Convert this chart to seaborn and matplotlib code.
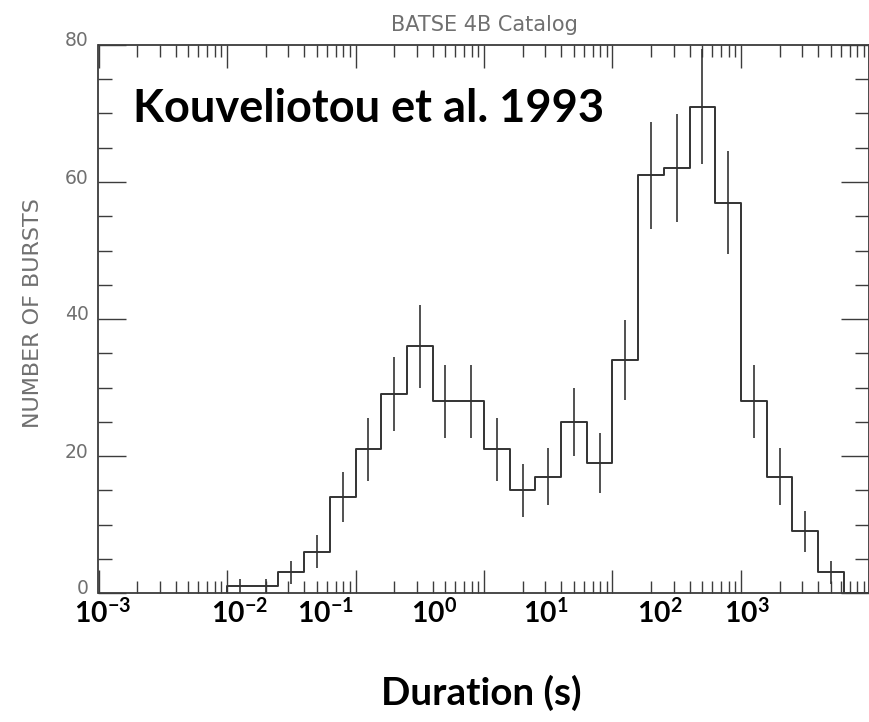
import numpy as np
import pandas as pd
import matplotlib
matplotlib.use("Agg")
import matplotlib.pyplot as plt
import matplotlib.ticker as mticker
import matplotlib.transforms as mtransforms
import seaborn as sns

# ---------------- data ----------------
log_edges = [-2.0, -1.8, -1.6, -1.4, -1.2, -1.0, -0.8, -0.6, -0.4, -0.2,
             0.0, 0.2, 0.4, 0.6, 0.8, 1.0, 1.2, 1.4, 1.6, 1.8,
             2.0, 2.2, 2.4, 2.6, 2.8, 3.0]
counts = [1, 1, 3, 6, 14, 21, 29, 36, 28, 28,
          21, 15, 17, 25, 19, 34, 61, 62, 71, 57,
          28, 17, 9, 3, 0]
errors = [1.0, 1.0, 1.7, 2.4, 3.7, 4.6, 5.4, 6.0, 5.3, 5.3,
          4.6, 3.9, 4.1, 5.0, 4.4, 5.8, 7.8, 7.9, 8.4, 7.5,
          5.3, 4.1, 3.0, 1.7, 0.0]
y_ticks = [0, 20, 40, 60, 80]
duration_labels = [r"$\mathbf{10^{-3}}$", r"$\mathbf{10^{-2}}$", r"$\mathbf{10^{-1}}$",
                   r"$\mathbf{10^{0}}$", r"$\mathbf{10^{1}}$", r"$\mathbf{10^{2}}$",
                   r"$\mathbf{10^{3}}$"]
title_text = "BATSE 4B Catalog"
ylabel_text = "NUMBER OF BURSTS"
note_text = "Kouveliotou et al. 1993"
xlabel_text = "Duration (s)"

# ---------------- layout (pixels of the 870x722 canvas) ----------------
W, H = 870, 722
label_centres_px = [103, 240, 325, 434, 546, 660, 747]

sns.set_style("ticks")
plt.rcParams["font.family"] = ["DejaVu Sans"]
plt.rcParams["mathtext.fontset"] = "custom"
plt.rcParams["mathtext.rm"] = "Lato"
plt.rcParams["mathtext.bf"] = "Lato:bold"

fig = plt.figure(figsize=(W / 100, H / 100), dpi=100)
fig.patch.set_facecolor("white")
ax = fig.add_axes([98.5 / W, (H - 593) / H, (869.5 - 98.5) / W, (593 - 45) / H])
ax.set_facecolor("white")
ax.set_xscale("log")

edges = np.power(10.0, np.array(log_edges))
step_df = pd.DataFrame({"duration": edges, "bursts": [0] + counts})
line_col = "#333333"
sns.lineplot(data=step_df, x="duration", y="bursts", ax=ax, drawstyle="steps-pre",
             estimator=None, sort=False, color=line_col, linewidth=1.4)

centres = np.power(10.0, (np.array(log_edges[:-1]) + np.array(log_edges[1:])) / 2)
c = np.array(counts, dtype=float)
e = np.array(errors)
mask = c > 0
ax.vlines(centres[mask], c[mask] - e[mask], c[mask] + e[mask], color=line_col, linewidth=1.2)

ax.set_xlim(1e-3, 1e3)
ax.set_ylim(0, 80)
ax.set_xlabel("")
ax.set_ylabel("")
ax.yaxis.set_major_locator(mticker.FixedLocator(y_ticks))
ax.yaxis.set_minor_locator(mticker.MultipleLocator(5))
ax.xaxis.set_major_locator(mticker.LogLocator(base=10, numticks=20))
ax.xaxis.set_minor_locator(mticker.LogLocator(base=10, subs=np.arange(2, 10), numticks=20))
ax.xaxis.set_minor_formatter(mticker.NullFormatter())

spine_col = "#3c3c3c"
for s in ax.spines.values():
    s.set_visible(True)
    s.set_color(spine_col)
    s.set_linewidth(1.3)

ax.tick_params(axis="x", which="major", direction="in", length=16.5, width=1.0,
               top=True, bottom=True, labelbottom=False, colors=spine_col)
ax.tick_params(axis="x", which="minor", direction="in", length=8.5, width=1.0,
               top=True, bottom=True, colors=spine_col)
ax.tick_params(axis="y", which="major", direction="in", length=20, width=1.0,
               left=True, right=True, labelsize=13.5, pad=7, color=spine_col,
               labelcolor="#707070")
ax.tick_params(axis="y", which="minor", direction="in", length=10, width=1.0,
               left=True, right=True, color=spine_col)

# y tick labels sit a few pixels above their ticks in the reference
up = mtransforms.ScaledTranslation(0, 6 / 100, fig.dpi_scale_trans)
for tick in ax.yaxis.get_major_ticks():
    tick.label1.set_transform(tick.label1.get_transform() + up)

fig.text(484 / W, (H - 25) / H, title_text, ha="center", va="center",
         fontsize=15, color="#707070")
fig.text(33 / W, (H - 313) / H, ylabel_text, rotation=90, ha="center", va="center",
         fontsize=16, color="#707070")

bold = dict(family=["Lato", "DejaVu Sans"], fontweight="bold", color="black")
note = fig.text(133 / W, (H - 122) / H, note_text, ha="left", va="baseline",
                fontsize=30, **bold)
xl = fig.text(481 / W, (H - 693) / H, xlabel_text, ha="center", va="center",
              fontsize=30, **bold)
dlabels = [fig.text(px / W, (H - 614) / H, lab, ha="center", va="center",
                    fontsize=20, color="black")
           for px, lab in zip(label_centres_px, duration_labels)]

renderer = fig.canvas.get_renderer()

def fit(t, target):
    w = t.get_window_extent(renderer).width
    t.set_fontsize(t.get_fontsize() * target / w)

fit(note, 470)
fit(xl, 200)
w0 = dlabels[3].get_window_extent(renderer).width
scale = 46 / w0
for t in dlabels:
    t.set_fontsize(t.get_fontsize() * scale)

fig.savefig("out.png", dpi=100, facecolor="white")
